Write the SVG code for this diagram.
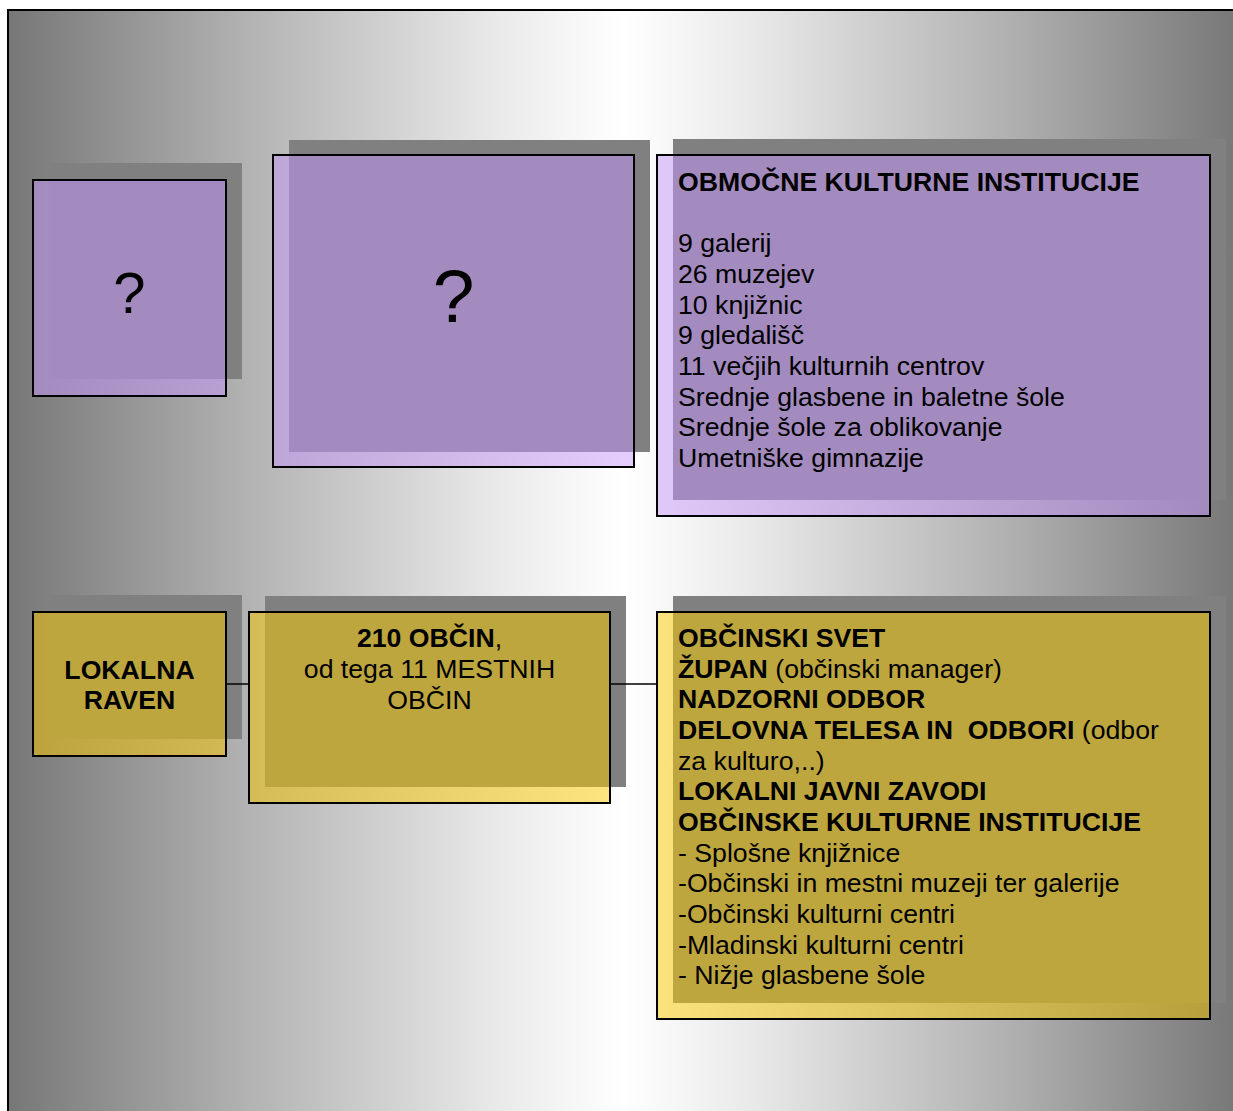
<svg xmlns="http://www.w3.org/2000/svg" width="1233" height="1111" viewBox="0 0 1233 1111">
  <defs>
    <linearGradient id="bg" gradientUnits="userSpaceOnUse" x1="8" y1="0" x2="1240" y2="0">
      <stop offset="0" stop-color="#777777"/>
      <stop offset="0.2" stop-color="#b4b4b4"/>
      <stop offset="0.4" stop-color="#eaeaea"/>
      <stop offset="0.5" stop-color="#ffffff"/>
      <stop offset="0.6" stop-color="#eaeaea"/>
      <stop offset="0.8" stop-color="#b4b4b4"/>
      <stop offset="1" stop-color="#777777"/>
    </linearGradient>
    <linearGradient id="pg" gradientUnits="userSpaceOnUse" x1="8" y1="0" x2="1240" y2="0">
      <stop offset="0.02" stop-color="#a48bbf"/>
      <stop offset="0.5" stop-color="#e4ccfc"/>
      <stop offset="0.97" stop-color="#a48bbf"/>
    </linearGradient>
    <linearGradient id="gg" gradientUnits="userSpaceOnUse" x1="8" y1="0" x2="1240" y2="0">
      <stop offset="0.02" stop-color="#bca33e"/>
      <stop offset="0.5" stop-color="#ffe680"/>
      <stop offset="0.97" stop-color="#b8a03c"/>
    </linearGradient>
  </defs>
  <style>
    .shadow { fill: #808080; }
    .frame { fill: none; stroke: #000; stroke-width: 2; }
    .pbase { fill: url(#pg); }
    .psolid { fill: #a48bbf; }
    .gbase { fill: url(#gg); }
    .gsolid { fill: #bea63f; }
    text { font-family: "Liberation Sans", Arial, sans-serif; fill: #000; font-size: 26.67px; }
    .b { font-weight: bold; }
    .c { text-anchor: middle; }
    .conn { stroke: #000; stroke-width: 1.5; fill: none; }
  </style>

  <rect x="8" y="10" width="1240" height="1120" fill="url(#bg)" stroke="#000" stroke-width="2"/>

  <g id="nodeA">
    <rect class="shadow" x="49" y="163" width="193" height="216"/>
    <rect class="pbase" x="33" y="180" width="193" height="216"/>
    <rect class="psolid" x="49" y="180" width="177" height="199"/>
    <rect class="frame" x="33" y="180" width="193" height="216"/>
    <text class="c" x="129.5" y="313" style="font-size:58px">?</text>
  </g>

  <g id="nodeB">
    <rect class="shadow" x="289" y="140" width="361" height="312"/>
    <rect class="pbase" x="273" y="155" width="361" height="312"/>
    <rect class="psolid" x="289" y="155" width="345" height="297"/>
    <rect class="frame" x="273" y="155" width="361" height="312"/>
    <text class="c" x="453.5" y="322" style="font-size:75px">?</text>
  </g>

  <g id="nodeC">
    <rect class="shadow" x="673" y="139" width="553" height="361"/>
    <rect class="pbase" x="657" y="155" width="553" height="361"/>
    <rect class="psolid" x="673" y="155" width="537" height="345"/>
    <rect class="frame" x="657" y="155" width="553" height="361"/>
    <text x="678" y="191" class="b">OBMOČNE KULTURNE INSTITUCIJE</text>
    <text x="678" y="252.3">9 galerij</text>
    <text x="678" y="283">26 muzejev</text>
    <text x="678" y="313.7">10 knjižnic</text>
    <text x="678" y="344.3">9 gledališč</text>
    <text x="678" y="375">11 večjih kulturnih centrov</text>
    <text x="678" y="405.7">Srednje glasbene in baletne šole</text>
    <text x="678" y="436.3">Srednje šole za oblikovanje</text>
    <text x="678" y="467">Umetniške gimnazije</text>
  </g>

  <g id="nodeD">
    <rect class="shadow" x="49" y="595" width="193" height="144"/>
    <rect class="gbase" x="33" y="612" width="193" height="144"/>
    <rect class="gsolid" x="49" y="612" width="177" height="127"/>
    <rect class="frame" x="33" y="612" width="193" height="144"/>
    <text class="b c" x="129.5" y="678.5">LOKALNA</text>
    <text class="b c" x="129.5" y="709">RAVEN</text>
  </g>

  <g id="nodeE">
    <rect class="shadow" x="265" y="596" width="361" height="191"/>
    <rect class="gbase" x="249" y="612" width="361" height="191"/>
    <rect class="gsolid" x="265" y="612" width="345" height="175"/>
    <rect class="frame" x="249" y="612" width="361" height="191"/>
    <text class="c" x="429.5" y="647"><tspan class="b">210 OBČIN</tspan>,</text>
    <text class="c" x="429.5" y="678">od tega 11 MESTNIH</text>
    <text class="c" x="429.5" y="708.5">OBČIN</text>
  </g>

  <g id="nodeF">
    <rect class="shadow" x="673" y="596" width="553" height="407"/>
    <rect class="gbase" x="657" y="612" width="553" height="407"/>
    <rect class="gsolid" x="673" y="612" width="537" height="391"/>
    <rect class="frame" x="657" y="612" width="553" height="407"/>
    <text x="678" y="647" class="b">OBČINSKI SVET</text>
    <text x="678" y="677.7"><tspan class="b">ŽUPAN</tspan> (občinski manager)</text>
    <text x="678" y="708.3" class="b">NADZORNI ODBOR</text>
    <text x="678" y="739" xml:space="preserve"><tspan class="b">DELOVNA TELESA IN  ODBORI</tspan> (odbor</text>
    <text x="678" y="769.7">za kulturo,..)</text>
    <text x="678" y="800.3" class="b">LOKALNI JAVNI ZAVODI</text>
    <text x="678" y="831" class="b">OBČINSKE KULTURNE INSTITUCIJE</text>
    <text x="678" y="861.7">- Splošne knjižnice</text>
    <text x="678" y="892.3">-Občinski in mestni muzeji ter galerije</text>
    <text x="678" y="923">-Občinski kulturni centri</text>
    <text x="678" y="953.7">-Mladinski kulturni centri</text>
    <text x="678" y="984.3">- Nižje glasbene šole</text>
  </g>

  <g id="connectors">
    <line class="conn" x1="226" y1="684" x2="249" y2="684"/>
    <line class="conn" x1="610" y1="684" x2="657" y2="684"/>
  </g>
</svg>
